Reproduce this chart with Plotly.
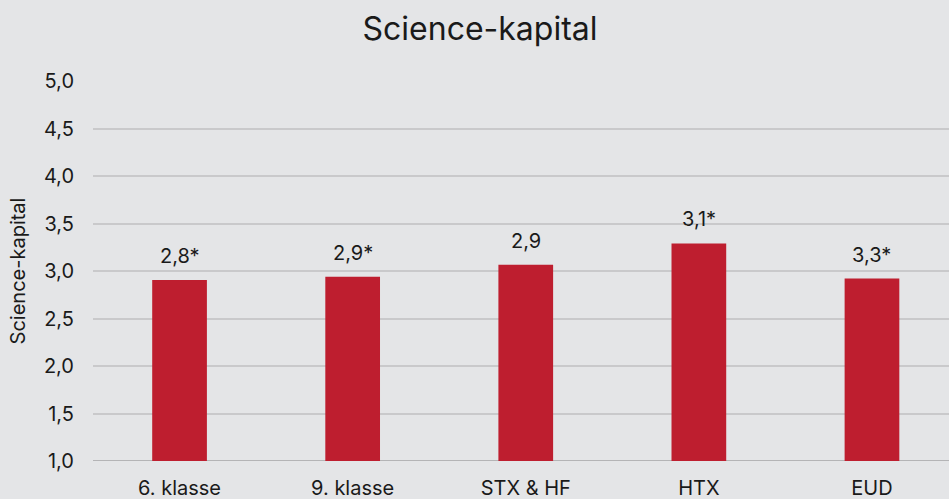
import plotly.graph_objects as go

categories = ["6. klasse", "9. klasse", "STX & HF", "HTX", "EUD"]
values = [2.905, 2.94, 3.065, 3.29, 2.92]
labels = ["2,8*", "2,9*", "2,9", "3,1*", "3,3*"]
y_ticks = [1.0, 1.5, 2.0, 2.5, 3.0, 3.5, 4.0, 4.5, 5.0]
y_ticktext = ["1,0", "1,5", "2,0", "2,5", "3,0", "3,5", "4,0", "4,5", "5,0"]

FONT = "Inter"
BG = "#e4e5e7"
RED = "#be1e2f"
TXT = "#1a1a1a"

fig = go.Figure()
fig.add_trace(go.Bar(
    x=list(range(len(categories))),
    y=[v - 1.0 for v in values],
    base=1.0,
    marker=dict(color=RED, line=dict(width=0)),
    hoverinfo="skip",
))

for i, (v, lab) in enumerate(zip(values, labels)):
    fig.add_annotation(x=i, y=v, text=lab, showarrow=False,
                       yanchor="middle", yshift=24,
                       font=dict(family=FONT, size=20, color=TXT))

fig.update_layout(
    width=949, height=499,
    paper_bgcolor=BG, plot_bgcolor=BG,
    margin=dict(l=93, r=0, t=81, b=38),
    bargap=0.684,
    showlegend=False,
    font=dict(family=FONT, color=TXT),
    title=dict(text="Science-kapital", x=480 / 949, xanchor="center",
               y=1 - 29 / 499, yanchor="middle",
               font=dict(family=FONT, size=32, color=TXT)),
    xaxis=dict(
        tickmode="array", tickvals=list(range(len(categories))),
        ticktext=categories, range=[-0.5, 4.445],
        showgrid=False, zeroline=False, showline=False,
        tickfont=dict(family=FONT, size=20, color=TXT),
        ticklabelstandoff=13,
    ),
    yaxis=dict(
        range=[1.0, 5.0], tickmode="array", tickvals=y_ticks,
        ticktext=y_ticktext,
        showgrid=True, gridcolor="#c9c9cb", gridwidth=1.5,
        zeroline=False, showline=False,
        tickfont=dict(family=FONT, size=20, color=TXT),
        ticklabelstandoff=18,
        title=dict(text="Science-kapital", standoff=12,
                   font=dict(family=FONT, size=20, color=TXT)),
    ),
)
fig.add_shape(type="line", xref="paper", yref="y", x0=0, x1=1, y0=1.0, y1=1.0,
              line=dict(color="#b4b4b6", width=2), layer="below")

fig.write_html("out.html", config={"displayModeBar": False},
               post_script="document.body.style.margin='0';document.body.style.overflow='hidden';")
